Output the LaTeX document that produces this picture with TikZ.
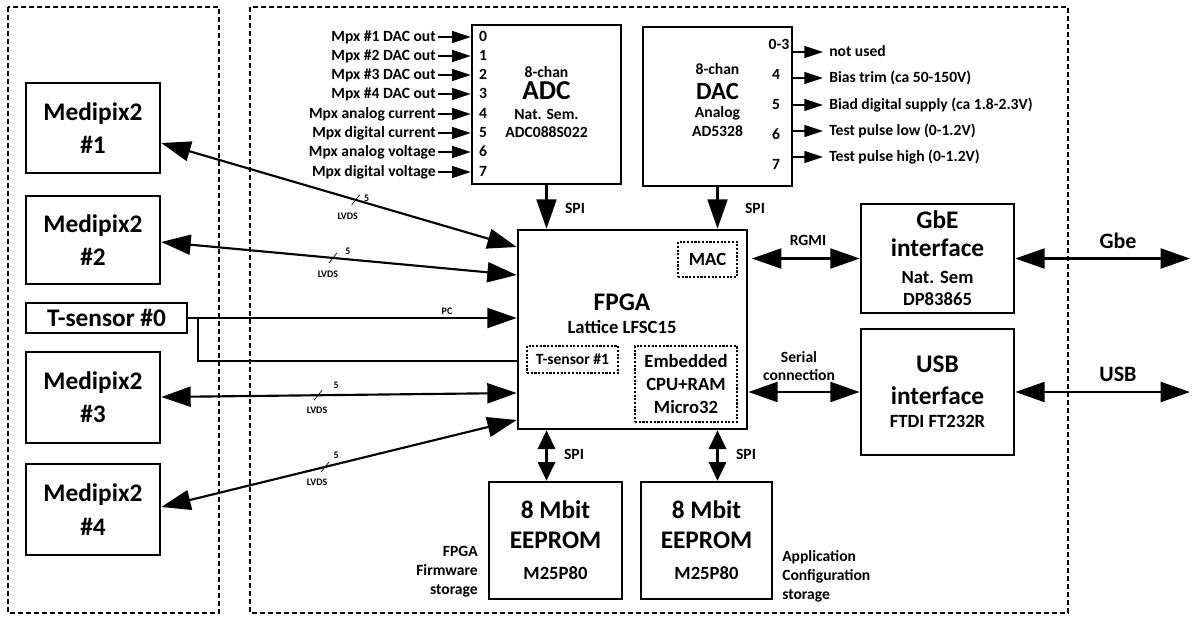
\documentclass[tikz,border=0pt]{standalone}
\usepackage{fontspec}
\setmainfont{Carlito}
\usetikzlibrary{arrows.meta,calc}
\newcommand\fsXL{\fontsize{20.5}{22}\selectfont}
\newcommand\fsL{\fontsize{19}{22}\selectfont}
\newcommand\fsM{\fontsize{14}{16.5}\selectfont}
\newcommand\fsS{\fontsize{11.7}{14.3}\selectfont}
\newcommand\fsT{\fontsize{7.5}{9}\selectfont}
\begin{document}
\begin{tikzpicture}[x=0.75pt,y=-0.75pt,
  sz/.style 2 args={minimum width=#1*0.75pt, minimum height=#2*0.75pt},
  box/.style={draw, line width=2pt, inner sep=0pt, align=center},
  dbox/.style={draw, line width=0.8pt, dash pattern=on 1.6pt off 1.2pt, inner sep=0pt, align=center},
  frame/.style={draw, line width=0.9pt, dash pattern=on 3.5pt off 2.5pt},
  conn/.style={line width=1.6pt},
  bigbi/.style={conn, {Triangle[length=22pt,width=15pt]}-{Triangle[length=22pt,width=15pt]}},
  bigarr/.style={conn, -{Triangle[length=22pt,width=15pt]}},
  midbi/.style={conn, {Triangle[length=14pt,width=13pt]}-{Triangle[length=14pt,width=13pt]}},
  sarr/.style={line width=1.1pt, -{Triangle[length=14pt,width=9pt]}},
  txt/.style={inner sep=0pt, font=\bfseries\fsS, text height=8.5pt, text depth=1.5pt},
  tinytxt/.style={inner sep=0pt, font=\bfseries\fsT},
  tickmark/.style={line width=0.5pt},
  mpx/.style={box, sz={134}{#1}, font=\bfseries\fontsize{19}{25}\selectfont},
  intext/.style={inner sep=0pt, align=center, font=\bfseries\fontsize{11.7}{13.5}\selectfont}
]
\useasboundingbox (0,0) rectangle (1192,617);
% frames
\draw[frame] (8,7) rectangle (219,613);
\draw[frame] (250,7) rectangle (1068,613);

% left boxes
\node[mpx=90] (m1) at (93,128) {Medipix2\\\#1};
\node[mpx=88] (m2) at (93,240) {Medipix2\\\#2};
\node[box, sz={161}{30}, font=\bfseries\fontsize{19}{22}\selectfont] (ts0) at (106.5,318) {T-sensor \#0};
\node[mpx=91] (m3) at (93,397.5) {Medipix2\\\#3};
\node[mpx=91] (m4) at (93,509.5) {Medipix2\\\#4};

% ADC / DAC
\node[box, sz={149}{159}] (adc) at (546.5,104.5) {};
\node[intext] (adct) at (546.5,102)
  {8-chan\\[2pt]{\fsXL ADC}\\[1.5pt]Nat. Sem.\\ADC088S022};
\node[box, sz={149}{159}] (dac) at (717.5,106.5) {};
\node[intext] (dact) at (717.5,100.5)
  {8-chan\\[5.25pt]{\fontsize{18.5}{20}\selectfont DAC}\\[0pt]Analog\\[0.75pt]AD5328};

% FPGA
\node[box, sz={229}{199}] (fpga) at (632.5,329.5) {};
\node[inner sep=0pt, align=center, font=\bfseries\fontsize{14}{17}\selectfont] (fpgat) at (622,314)
  {{\fsL FPGA}\\Lattice LFSC15};
\node[dbox, sz={59}{35}, font=\bfseries\fsM] (mac) at (707.5,259.5) {MAC};
\node[dbox, sz={91}{27}, font=\bfseries\fsS] (ts1) at (572.5,359.5) {T-sensor \#1};
\node[dbox, sz={102}{76}, font=\bfseries\fontsize{14}{17.25}\selectfont] (cpu) at (686,384) {Embedded\\CPU+RAM\\Micro32};

% interfaces
\node[box, sz={153}{109}, font=\bfseries\fontsize{14}{16.5}\selectfont] (gbe) at (937.5,258.5)
  {{\fsL GbE}\\[4.5pt]{\fsL interface}\\[3.75pt]Nat. Sem\\DP83865};
\node[box, sz={153}{126}, font=\bfseries\fontsize{14}{16.5}\selectfont] (usb) at (937.5,392)
  {{\fsL USB}\\[7.5pt]{\fsL interface}\\[0.8pt]FTDI FT232R};

% EEPROMs
\node[box, sz={133}{117}, font=\bfseries\fontsize{14}{16.5}\selectfont] (ee1) at (555.5,540.5)
  {{\fsL 8 Mbit}\\[6pt]{\fsL EEPROM}\\[6.5pt]M25P80};
\node[box, sz={131}{117}, font=\bfseries\fontsize{14}{16.5}\selectfont] (ee2) at (706.5,540.5)
  {{\fsL 8 Mbit}\\[6pt]{\fsL EEPROM}\\[6.5pt]M25P80};
\node[inner sep=0pt, anchor=east, align=right, font=\bfseries\fsS] (fwlab) at (478,572) {FPGA\\Firmware\\storage};
\node[inner sep=0pt, anchor=west, align=left, font=\bfseries\fsS] (aplab) at (782,576) {Application\\Configuration\\storage};

% ADC inputs
\foreach \i/\y/\t in {0/37/{Mpx \#1 DAC out},1/56/{Mpx \#2 DAC out},2/75/{Mpx \#3 DAC out},3/94/{Mpx \#4 DAC out},4/114/{Mpx analog current},5/133/{Mpx digital current},6/152/{Mpx analog voltage},7/172/{Mpx digital voltage}}{
  \node[txt, anchor=east] (adcin\i) at (436,\y) {\t};
  \draw[sarr] ($(adcin\i.east)+(2,0)$) -- (adcin\i.east -| adc.west);
  \node[txt] (adcn\i) at (483,\y) {\i};
}

% DAC outputs
\node[txt] (dacn0) at (779,45) {0-3};
\node[txt] (dacn4) at (776,75) {4};
\node[txt] (dacn5) at (776,105) {5};
\node[txt] (dacn6) at (776,135) {6};
\node[txt] (dacn7) at (776,165) {7};
\foreach \i/\y/\t in {0/52/{not used},1/78/{Bias trim (ca 50-150V)},2/105/{Biad digital supply (ca 1.8-2.3V)},3/131/{Test pulse low (0-1.2V)},4/157/{Test pulse high (0-1.2V)}}{
  \coordinate (dacs\i) at (dac.east |- 0,\y);
  \node[txt, anchor=west] (daco\i) at (829,\y) {\t};
  \draw[sarr] (dacs\i) -- ($(daco\i.west)+(-6,0)$);
}

% SPI
\draw[bigarr] (adc.south) -- (adc.south |- fpga.north);
\draw[bigarr] (dac.south) -- (dac.south |- fpga.north);
\draw[midbi] (ee1.north -| adc.south) -- (fpga.south -| adc.south);
\draw[midbi] (ee2.north -| dac.south) -- (fpga.south -| dac.south);
\node[txt] (spi1) at (575,209) {SPI};
\node[txt] (spi2) at (755,209) {SPI};
\node[txt] (spi3) at (574,455) {SPI};
\node[txt] (spi4) at (746,455) {SPI};

% right side links
\coordinate (rg) at (752,258.5);
\draw[bigbi] (rg) -- (rg -| gbe.west);
\node[txt] (rgmi) at (808,241) {RGMI};
\draw[bigbi] (usb.west -| fpga.east) -- (usb.west);
\node[intext] (serial) at (799,366) {Serial\\connection};
\coordinate (gbeout) at (1190,258.5);
\draw[bigbi] (gbe.east) -- (gbeout);
\node[inner sep=0pt, font=\bfseries\fontsize{16.5}{18}\selectfont] (gbelab) at (1118,241) {Gbe};
\coordinate (usbout) at (1190,392);
\draw[bigbi] (usb.east) -- (usbout);
\node[inner sep=0pt, font=\bfseries\fontsize{16.5}{18}\selectfont] (usblab) at (1118,374) {USB};

% Medipix links
\draw[bigbi] (m1.east |- 0,143) -- coordinate[pos=0.547] (t1) (fpga.west |- 0,247);
\draw[bigbi] (m2.east |- 0,242) -- coordinate[pos=0.483] (t2) (fpga.west |- 0,275);
\draw[bigbi] (m3.east |- 0,397) -- coordinate[pos=0.441] (t3) (fpga.west |- 0,393);
\draw[bigbi] (m4.east |- 0,507) -- coordinate[pos=0.461] (t4) (fpga.west |- 0,420);
\foreach \k/\fx/\fy/\lx/\ly in {1/11/-2/-8/16, 2/15/-7/-5/16, 3/18/-10/-1/15, 4/11/-12/-8/15}{
  \draw[tickmark] ($(t\k)+(-4,5)$) -- ($(t\k)+(4,-5)$);
  \node[tinytxt] (five\k) at ($(t\k)+(\fx,\fy)$) {5};
  \node[tinytxt] (lvds\k) at ($(t\k)+(\lx,\ly)$) {LVDS};
}

% T-sensor links
\draw[bigarr] (ts0.east) -- (fpga.west |- ts0.east);
\node[tinytxt] (pc) at (447,311) {PC};
\draw[conn] ($(ts0.east)+(10,0)$) |- (fpga.west |- 0,361);
\end{tikzpicture}
\end{document}
